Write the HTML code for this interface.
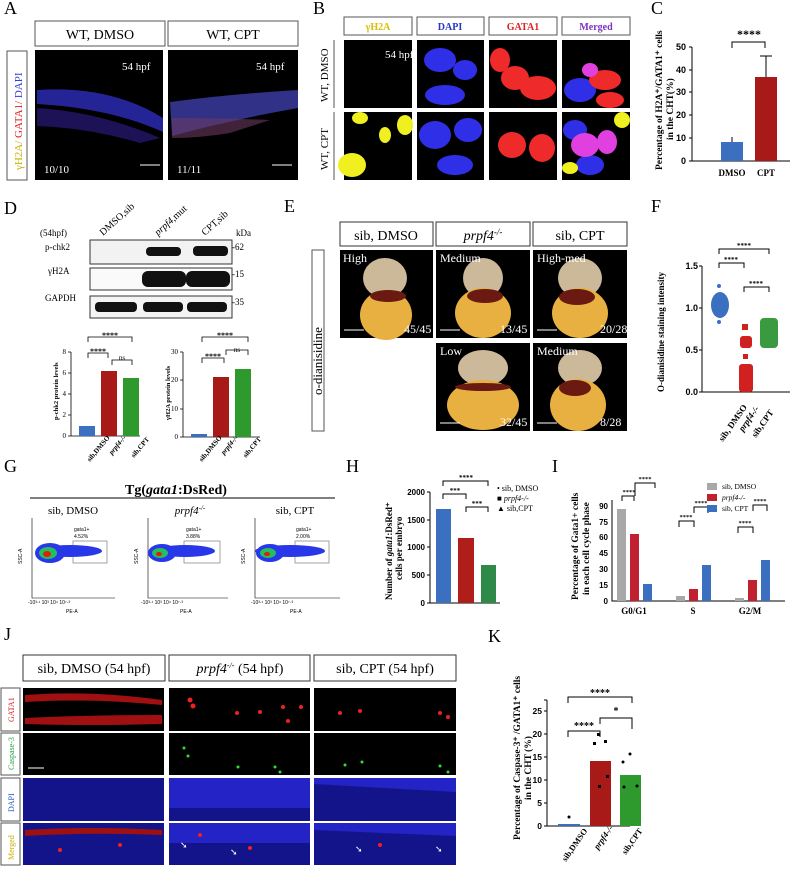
<!DOCTYPE html>
<html><head><meta charset="utf-8"><style>
body{margin:0;background:#fff}
svg{display:block;font-family:"Liberation Serif",serif}
</style></head><body>
<svg width="790" height="870" viewBox="0 0 790 870" xmlns="http://www.w3.org/2000/svg">
<g font-size="18"><text x="4" y="14">A</text><text x="313" y="14">B</text><text x="651" y="14">C</text><text x="4" y="214">D</text><text x="284" y="212">E</text><text x="651" y="212">F</text><text x="4" y="472">G</text><text x="346" y="472">H</text><text x="552" y="472">I</text><text x="4" y="640">J</text><text x="488" y="642">K</text></g>
<!-- A -->
<rect x="35" y="21" width="130" height="25" fill="none" stroke="#555"/><text x="100" y="39" text-anchor="middle" font-size="14">WT, DMSO</text>
<rect x="168" y="21" width="130" height="25" fill="none" stroke="#555"/><text x="233" y="39" text-anchor="middle" font-size="14">WT, CPT</text>
<rect x="7" y="51" width="20" height="129" fill="none" stroke="#555"/>
<text transform="translate(22,170) rotate(-90)" font-size="11"><tspan fill="#c9b200">γH2A/</tspan><tspan fill="#e02020"> GATA1/</tspan><tspan fill="#3040d0"> DAPI</tspan></text>
<rect x="35" y="50" width="128" height="130" fill="#000"/>
<rect x="168" y="50" width="130" height="130" fill="#000"/>
<path d="M37 90 Q110 85 163 118 L163 132 Q110 108 37 104Z" fill="#2a2ab0" opacity=".85"/>
<path d="M37 108 Q100 112 160 138 L140 143 Q90 128 37 126Z" fill="#2a1a7a" opacity=".7"/>
<path d="M170 102 Q230 94 298 90 L298 108 Q230 120 172 136Z" fill="#3a3aa0" opacity=".85"/>
<path d="M172 118 Q220 118 270 120 L230 133 Q200 138 172 138Z" fill="#6a3a60" opacity=".6"/>
<text x="122" y="70" fill="#fff" font-size="11">54 hpf</text><text x="256" y="70" fill="#fff" font-size="11">54 hpf</text>
<text x="44" y="173" fill="#fff" font-size="11">10/10</text><text x="177" y="173" fill="#fff" font-size="11">11/11</text>
<path d="M140 165h20M272 165h20" stroke="#fff"/>
<!-- B -->
<g font-size="10" text-anchor="middle" font-weight="bold">
<rect x="344" y="17" width="68" height="18" fill="#fff" stroke="#555"/><text x="378" y="30" fill="#d8c000">γH2A</text>
<rect x="417" y="17" width="67" height="18" fill="#fff" stroke="#555"/><text x="450" y="30" fill="#2838c0">DAPI</text>
<rect x="489" y="17" width="68" height="18" fill="#fff" stroke="#555"/><text x="523" y="30" fill="#e02020">GATA1</text>
<rect x="562" y="17" width="68" height="18" fill="#fff" stroke="#555"/><text x="596" y="30" fill="#8030c0">Merged</text>
</g>
<path d="M334 40V108M334 112V180" stroke="#555"/>
<text transform="translate(328,102) rotate(-90)" font-size="11">WT, DMSO</text>
<text transform="translate(328,170) rotate(-90)" font-size="11">WT, CPT</text>
<g fill="#000"><rect x="344" y="40" width="68" height="68"/><rect x="417" y="40" width="67" height="68"/><rect x="489" y="40" width="68" height="68"/><rect x="562" y="40" width="68" height="68"/>
<rect x="344" y="112" width="68" height="68"/><rect x="417" y="112" width="67" height="68"/><rect x="489" y="112" width="68" height="68"/><rect x="562" y="112" width="68" height="68"/></g>
<text x="385" y="58" fill="#fff" font-size="11">54 hpf</text>
<g fill="#2f2fe8"><ellipse cx="440" cy="60" rx="16" ry="12"/><ellipse cx="465" cy="70" rx="12" ry="10"/><ellipse cx="445" cy="95" rx="20" ry="10"/><ellipse cx="435" cy="135" rx="16" ry="14"/><ellipse cx="468" cy="130" rx="14" ry="12"/><ellipse cx="455" cy="165" rx="18" ry="10"/>
<ellipse cx="580" cy="90" rx="16" ry="12"/><ellipse cx="575" cy="130" rx="12" ry="10"/><ellipse cx="590" cy="165" rx="14" ry="10"/></g>
<g fill="#ee2a2a"><ellipse cx="515" cy="78" rx="14" ry="12"/><ellipse cx="538" cy="88" rx="18" ry="12"/><ellipse cx="500" cy="60" rx="10" ry="12"/><ellipse cx="512" cy="145" rx="14" ry="13"/><ellipse cx="542" cy="148" rx="13" ry="14"/>
<ellipse cx="605" cy="80" rx="16" ry="10"/><ellipse cx="610" cy="100" rx="14" ry="8"/></g>
<g fill="#e040e0"><ellipse cx="585" cy="145" rx="14" ry="12"/><ellipse cx="607" cy="142" rx="10" ry="12"/><ellipse cx="590" cy="70" rx="8" ry="7"/></g>
<g fill="#f0f020"><ellipse cx="352" cy="165" rx="14" ry="12"/><ellipse cx="385" cy="135" rx="6" ry="8"/><ellipse cx="405" cy="125" rx="8" ry="10"/><ellipse cx="360" cy="118" rx="8" ry="6"/><ellipse cx="570" cy="168" rx="8" ry="6"/><ellipse cx="622" cy="120" rx="8" ry="8"/></g>
<!-- C -->
<text transform="translate(662,170) rotate(-90)" font-size="9.5" font-weight="bold"><tspan x="0">Percentage of H2A⁺/GATA1⁺ cells</tspan><tspan x="30" dy="11">in the CHT(%)</tspan></text>
<g stroke="#000" fill="none" stroke-width="1"><path d="M692 47V161H790M689 161h3M689 138h3M689 115h3M689 92h3M689 70h3M689 47h3"/><path d="M732 48V42H765V48"/><path d="M732 142V137M766 77V56M760 56h12"/></g>
<g font-size="9" text-anchor="end" font-weight="bold" font-family="Liberation Sans"><text x="686" y="164">0</text><text x="686" y="141">10</text><text x="686" y="118">20</text><text x="686" y="95">30</text><text x="686" y="73">40</text><text x="686" y="50">50</text></g>
<rect x="721" y="142" width="22" height="19" fill="#3b6fc0"/><rect x="755" y="77" width="22" height="84" fill="#a81a18"/>
<text x="749" y="38" text-anchor="middle" font-size="12" font-weight="bold">****</text>
<text x="732" y="176" text-anchor="middle" font-size="9" font-weight="bold">DMSO</text><text x="766" y="176" text-anchor="middle" font-size="9" font-weight="bold">CPT</text>
<!-- D -->
<text x="40" y="236" font-size="9">(54hpf)</text>
<g font-size="10"><text transform="translate(103,236) rotate(-42)">DMSO,sib</text><text transform="translate(158,236) rotate(-42)"><tspan font-style="italic">prpf4</tspan>,mut</text><text transform="translate(205,236) rotate(-42)">CPT,sib</text></g>
<text x="236" y="236" font-size="9">kDa</text>
<g font-size="9"><text x="45" y="250">p-chk2</text><text x="48" y="274">γH2A</text><text x="45" y="301">GAPDH</text>
<text x="232" y="250">-62</text><text x="232" y="277">-15</text><text x="232" y="305">-35</text></g>
<rect x="90" y="240" width="142" height="24" fill="#f2f2f2" stroke="#333"/><rect x="90" y="268" width="142" height="22" fill="#fafafa" stroke="#333"/><rect x="90" y="296" width="142" height="22" fill="#f4f4f4" stroke="#333"/>
<g fill="#111"><rect x="146" y="247" width="35" height="9" rx="4"/><rect x="193" y="246" width="35" height="10" rx="4"/><rect x="142" y="271" width="44" height="16" rx="6"/><rect x="186" y="271" width="44" height="16" rx="6"/><rect x="95" y="302" width="42" height="10" rx="4"/><rect x="143" y="302" width="40" height="10" rx="4"/><rect x="187" y="302" width="40" height="10" rx="4"/></g>
<g stroke="#000" fill="none" stroke-width=".8"><path d="M71 352V436H140M68 436h3M68 415h3M68 394h3M68 373h3M68 352h3"/><path d="M88 342V337H132V342M88 358V353H108V358M112 365V360H132V365"/>
<path d="M183 352V437H260M180 437h3M180 409h3M180 380h3M180 352h3"/><path d="M202 342V337H248V342M202 363V358H224V363M226 355V350H248V355"/></g>
<g font-size="7" text-anchor="end"><text x="66" y="438">0</text><text x="66" y="417">2</text><text x="66" y="396">4</text><text x="66" y="375">6</text><text x="66" y="354">8</text><text x="178" y="439">0</text><text x="178" y="411">10</text><text x="178" y="382">20</text><text x="178" y="354">30</text></g>
<rect x="79" y="426" width="16" height="10" fill="#3b6fc0"/><rect x="101" y="371" width="16" height="65" fill="#a81a18"/><rect x="123" y="378" width="16" height="58" fill="#2e9a2e"/>
<rect x="191" y="434" width="16" height="3" fill="#3b6fc0"/><rect x="213" y="377" width="16" height="60" fill="#a81a18"/><rect x="235" y="369" width="16" height="68" fill="#2e9a2e"/>
<g font-size="8" font-weight="bold" text-anchor="middle"><text x="110" y="338">****</text><text x="98" y="354">****</text><text x="225" y="338">****</text><text x="213" y="359">****</text></g>
<g font-size="7" text-anchor="middle"><text x="122" y="360">ns</text><text x="237" y="352">ns</text></g>
<text transform="translate(58,420) rotate(-90)" font-size="6.5" font-weight="bold">p-chk2 protein levels</text>
<text transform="translate(170,420) rotate(-90)" font-size="6.5" font-weight="bold">γH2A protein levels</text>
<g font-size="7" font-weight="bold"><text transform="translate(90,462) rotate(-50)">sib,DMSO</text><text transform="translate(112,455) rotate(-50)" font-style="italic">prpf4-/-</text><text transform="translate(134,458) rotate(-50)">sib,CPT</text>
<text transform="translate(202,462) rotate(-50)">sib,DMSO</text><text transform="translate(224,455) rotate(-50)" font-style="italic">prpf4-/-</text><text transform="translate(246,458) rotate(-50)">sib,CPT</text></g>
<!-- E -->
<rect x="312" y="250" width="12" height="181" fill="none" stroke="#555"/>
<text transform="translate(322,395) rotate(-90)" font-size="13">o-dianisidine</text>
<g font-size="14" text-anchor="middle"><rect x="340" y="222" width="93" height="24" fill="none" stroke="#333"/><text x="386" y="240">sib, DMSO</text>
<rect x="436" y="222" width="94" height="24" fill="none" stroke="#333"/><text x="483" y="240" font-style="italic">prpf4<tspan font-size="9" dy="-5">-/-</tspan></text>
<rect x="533" y="222" width="94" height="24" fill="none" stroke="#333"/><text x="580" y="240">sib, CPT</text></g>
<g fill="#000"><rect x="340" y="250" width="93" height="88"/><rect x="436" y="250" width="94" height="88"/><rect x="533" y="250" width="94" height="88"/>
<rect x="436" y="343" width="94" height="88"/><rect x="533" y="343" width="94" height="88"/></g>
<g fill="#cbb99a"><ellipse cx="385" cy="278" rx="22" ry="20"/><ellipse cx="483" cy="278" rx="20" ry="20"/><ellipse cx="580" cy="278" rx="22" ry="20"/><ellipse cx="483" cy="368" rx="25" ry="18"/><ellipse cx="580" cy="368" rx="22" ry="18"/></g>
<g fill="#e8b040"><ellipse cx="386" cy="315" rx="26" ry="25"/><ellipse cx="483" cy="313" rx="28" ry="25"/><ellipse cx="580" cy="313" rx="28" ry="25"/><ellipse cx="483" cy="405" rx="36" ry="25"/><ellipse cx="578" cy="405" rx="28" ry="26"/></g>
<g fill="#6a1a10"><ellipse cx="388" cy="296" rx="18" ry="6"/><ellipse cx="485" cy="296" rx="18" ry="7"/><ellipse cx="577" cy="297" rx="18" ry="8"/><ellipse cx="483" cy="387" rx="28" ry="4"/><ellipse cx="575" cy="388" rx="16" ry="8"/></g>
<g fill="#fff" font-size="12"><text x="343" y="262">High</text><text x="440" y="262">Medium</text><text x="537" y="262">High-med</text><text x="440" y="355">Low</text><text x="537" y="355">Medium</text>
<text x="404" y="333">45/45</text><text x="500" y="333">13/45</text><text x="600" y="333">20/28</text><text x="500" y="426">32/45</text><text x="600" y="426">8/28</text></g>
<path d="M344 330h20M440 330h20M537 330h20M440 423h20M537 423h20" stroke="#fff"/>
<!-- F -->
<text transform="translate(664,392) rotate(-90)" font-size="9" font-weight="bold">O-dianisidine staining intensity</text>
<g stroke="#000" fill="none"><path d="M702 266V392H790M699 392h3M699 350h3M699 308h3M699 266h3"/><path d="M719 254V249H769V254M719 268V263H744V268M744 292V287H769V292"/></g>
<g font-size="9" text-anchor="end" font-weight="bold" font-family="Liberation Sans"><text x="698" y="395">0.0</text><text x="698" y="353">0.5</text><text x="698" y="311">1.0</text><text x="698" y="269">1.5</text></g>
<g font-size="7" font-weight="bold" text-anchor="middle"><text x="744" y="248">****</text><text x="731" y="262">****</text><text x="756" y="286">****</text></g>
<g fill="#3b6fc0"><ellipse cx="720" cy="305" rx="9" ry="13"/><circle cx="719" cy="286" r="2"/><circle cx="719" cy="322" r="2"/></g>
<g fill="#d02020"><rect x="739" y="364" width="14" height="28" rx="3"/><rect x="740" y="336" width="12" height="12" rx="3"/><rect x="742" y="324" width="6" height="6"/><rect x="743" y="354" width="5" height="5"/></g>
<g fill="#3a9a40"><rect x="760" y="318" width="18" height="30" rx="4"/></g>
<g font-size="9" font-weight="bold"><text transform="translate(723,442) rotate(-55)">sib, DMSO</text><text transform="translate(743,432) rotate(-55)" font-style="italic">prpf4-/-</text><text transform="translate(756,438) rotate(-55)">sib,CPT</text></g>
<!-- G -->
<text x="176" y="494" text-anchor="middle" font-size="14" font-weight="bold">Tg(<tspan font-style="italic">gata1</tspan>:DsRed)</text>
<path d="M30 498H335" stroke="#000"/>
<g font-size="11" text-anchor="middle"><text x="73" y="514">sib, DMSO</text><text x="190" y="514" font-style="italic">prpf4<tspan font-size="7" dy="-4">-/-</tspan></text><text x="295" y="514">sib, CPT</text></g>
<g fill="none" stroke="#000" stroke-width=".6"><path d="M32 518V598H115M148 518V598H228M255 518V598H340"/>
<rect x="73" y="541" width="34" height="22" stroke="#666"/><rect x="184" y="541" width="36" height="22" stroke="#666"/><rect x="295" y="541" width="34" height="22" stroke="#666"/></g>
<g><ellipse cx="70" cy="551" rx="32" ry="6" fill="#2838e8"/><ellipse cx="50" cy="553" rx="15" ry="10" fill="#2838e8"/><ellipse cx="48" cy="553" rx="9" ry="6" fill="#20c060"/><ellipse cx="47" cy="554" rx="4" ry="3" fill="#e02000"/>
<ellipse cx="185" cy="551" rx="30" ry="6" fill="#2838e8"/><ellipse cx="162" cy="553" rx="14" ry="9" fill="#2838e8"/><ellipse cx="160" cy="553" rx="8" ry="5" fill="#20c060"/><ellipse cx="159" cy="554" rx="3" ry="2" fill="#e02000"/>
<ellipse cx="290" cy="551" rx="35" ry="6" fill="#2838e8"/><ellipse cx="270" cy="553" rx="14" ry="9" fill="#2838e8"/><ellipse cx="268" cy="553" rx="8" ry="5" fill="#20c060"/><ellipse cx="267" cy="554" rx="3" ry="2" fill="#e02000"/></g>
<g font-size="5" font-family="Liberation Sans"><text x="74" y="531">gata1+</text><text x="74" y="538">4.52%</text><text x="186" y="531">gata1+</text><text x="186" y="538">3.88%</text><text x="296" y="531">gata1+</text><text x="296" y="538">2.00%</text>
<text transform="translate(22,564) rotate(-90)">SSC-A</text><text transform="translate(138,564) rotate(-90)">SSC-A</text><text transform="translate(245,564) rotate(-90)">SSC-A</text>
<text x="66" y="613">PE-A</text><text x="180" y="613">PE-A</text><text x="290" y="613">PE-A</text>
<text x="28" y="604">-10³·¹   10³  10⁴          10⁷·³</text><text x="141" y="604">-10³·¹   10³  10⁴          10⁷·³</text><text x="251" y="604">-10³·¹   10³  10⁴          10⁷·³</text></g>
<!-- H -->
<text transform="translate(392,600) rotate(-90)" font-size="9" font-weight="bold"><tspan x="0">Number of <tspan font-style="italic">gata1</tspan>:DsRed⁺</tspan><tspan x="20" dy="10">cells per embryo</tspan></text>
<g stroke="#000" fill="none"><path d="M430 492V603H500M427 603h3M427 575h3M427 547h3M427 520h3M427 492h3"/><path d="M443 486V481H488V486M443 499V494H466V499M466 512V507H488V512"/></g>
<g font-size="8" text-anchor="end" font-weight="bold" font-family="Liberation Sans"><text x="425" y="606">0</text><text x="425" y="578">500</text><text x="425" y="550">1000</text><text x="425" y="523">1500</text><text x="425" y="495">2000</text></g>
<rect x="436" y="509" width="15" height="94" fill="#3b6fc0"/><rect x="458" y="538" width="16" height="65" fill="#b01e1a"/><rect x="481" y="565" width="15" height="38" fill="#2e8a48"/>
<g font-size="7" font-weight="bold" text-anchor="middle"><text x="466" y="480">****</text><text x="455" y="493">***</text><text x="477" y="506">***</text></g>
<g font-size="8"><text x="497" y="491">•  sib,  DMSO</text><text x="497" y="501">■  <tspan font-style="italic">prpf4-/-</tspan></text><text x="497" y="511">▲  sib,CPT</text></g>
<!-- I -->
<text transform="translate(578,600) rotate(-90)" font-size="9.5" font-weight="bold"><tspan x="0">Percentage of Gata1+ cells</tspan><tspan x="5" dy="11">in each cell cycle phase</tspan></text>
<g stroke="#000" fill="none"><path d="M612 500V601H785"/><path d="M622 501V496H634V501M635 496V483H655V488M679 527V521H694V527M694 513V507H708V513M738 533V527H753V533M753 511V505H767V511"/></g>
<g font-size="8" text-anchor="end" font-weight="bold" font-family="Liberation Sans"><text x="608" y="604">0</text><text x="608" y="588">15</text><text x="608" y="572">30</text><text x="608" y="556">45</text><text x="608" y="540">60</text><text x="608" y="525">75</text><text x="608" y="509">90</text></g>
<rect x="617" y="509" width="9" height="92" fill="#a8a8a8"/><rect x="630" y="534" width="9" height="67" fill="#c02030"/><rect x="643" y="584" width="9" height="17" fill="#3b6fc0"/>
<rect x="676" y="596" width="9" height="5" fill="#a8a8a8"/><rect x="689" y="589" width="9" height="12" fill="#c02030"/><rect x="702" y="565" width="9" height="36" fill="#3b6fc0"/>
<rect x="735" y="598" width="9" height="3" fill="#a8a8a8"/><rect x="748" y="580" width="9" height="21" fill="#c02030"/><rect x="761" y="560" width="9" height="41" fill="#3b6fc0"/>
<g font-size="9" font-weight="bold" text-anchor="middle"><text x="634" y="614">G0/G1</text><text x="693" y="614">S</text><text x="750" y="614">G2/M</text></g>
<g font-size="6.5" font-weight="bold" text-anchor="middle"><text x="629" y="494">****</text><text x="645" y="481">****</text><text x="686" y="519">****</text><text x="701" y="505">****</text><text x="745" y="525">****</text><text x="760" y="503">****</text></g>
<g font-size="7.5"><rect x="707" y="483" width="10" height="7" fill="#a8a8a8"/><text x="722" y="489">sib, DMSO</text><rect x="707" y="494" width="10" height="7" fill="#c02030"/><text x="722" y="500" font-style="italic">prpf4-/-</text><rect x="707" y="505" width="10" height="7" fill="#3b6fc0"/><text x="722" y="511">sib, CPT</text></g>
<!-- J -->
<g font-size="14" text-anchor="middle"><rect x="23" y="655" width="142" height="26" fill="none" stroke="#333"/><text x="94" y="673">sib, DMSO (54 hpf)</text>
<rect x="169" y="655" width="141" height="26" fill="none" stroke="#333"/><text x="240" y="673"><tspan font-style="italic">prpf4</tspan><tspan font-size="8" dy="-5" font-style="italic">-/-</tspan><tspan dy="5"> (54 hpf)</tspan></text>
<rect x="314" y="655" width="142" height="26" fill="none" stroke="#333"/><text x="385" y="673">sib, CPT (54 hpf)</text></g>
<g fill="none" stroke="#555"><rect x="1" y="688" width="19" height="43"/><rect x="1" y="733" width="19" height="42"/><rect x="1" y="778" width="19" height="43"/><rect x="1" y="823" width="19" height="42"/></g>
<g font-size="8"><text transform="translate(14,722) rotate(-90)" fill="#d02020">GATA1</text><text transform="translate(14,770) rotate(-90)" fill="#20a040">Caspase-3</text><text transform="translate(14,812) rotate(-90)" fill="#2050c0">DAPI</text><text transform="translate(14,860) rotate(-90)" fill="#c8b000">Merged</text></g>
<g fill="#000"><rect x="23" y="688" width="141" height="43"/><rect x="169" y="688" width="141" height="43"/><rect x="314" y="688" width="142" height="43"/>
<rect x="23" y="733" width="141" height="42"/><rect x="169" y="733" width="141" height="42"/><rect x="314" y="733" width="142" height="42"/></g>
<g fill="#14148a"><rect x="23" y="778" width="141" height="43"/><rect x="169" y="778" width="141" height="43"/><rect x="314" y="778" width="142" height="43"/>
<rect x="23" y="823" width="141" height="42"/><rect x="169" y="823" width="141" height="42"/><rect x="314" y="823" width="142" height="42"/></g>
<g fill="#2a2ae0" opacity=".7"><rect x="169" y="778" width="141" height="30"/><rect x="169" y="823" width="141" height="20"/><path d="M314 778H456V792L314 784Z"/><path d="M314 823H456V836L314 830Z"/></g>
<g fill="#a01010"><path d="M25 695 Q90 690 162 700 L162 705 Q90 698 25 702Z"/><path d="M25 718 Q90 715 162 715 L162 724 Q90 726 25 724Z"/><path d="M25 830 Q90 826 162 830 L162 835 Q90 832 25 836Z"/></g>
<g fill="#ee2020"><circle cx="190" cy="700" r="2.5"/><circle cx="193" cy="706" r="2.5"/><circle cx="237" cy="713" r="2"/><circle cx="260" cy="712" r="2"/><circle cx="283" cy="707" r="2"/><circle cx="301" cy="707" r="2"/><circle cx="288" cy="721" r="2"/><circle cx="340" cy="713" r="2"/><circle cx="360" cy="711" r="2"/><circle cx="440" cy="713" r="2"/><circle cx="448" cy="717" r="2"/>
<circle cx="200" cy="835" r="2"/><circle cx="250" cy="848" r="2"/><circle cx="380" cy="845" r="2"/><circle cx="60" cy="850" r="2"/><circle cx="120" cy="845" r="2"/></g>
<g fill="#30e030"><circle cx="184" cy="748" r="1.5"/><circle cx="188" cy="756" r="1.5"/><circle cx="238" cy="767" r="1.5"/><circle cx="275" cy="767" r="1.5"/><circle cx="280" cy="772" r="1.5"/><circle cx="345" cy="765" r="1.5"/><circle cx="362" cy="762" r="1.5"/><circle cx="440" cy="766" r="1.5"/><circle cx="448" cy="772" r="1.5"/></g>
<path d="M28 768h16" stroke="#aaa" stroke-width="1.5"/>
<g fill="#fff" font-size="9"><text x="180" y="848">➘</text><text x="230" y="855">➘</text><text x="355" y="852">➘</text><text x="435" y="852">➘</text></g>
<!-- K -->
<text transform="translate(520,840) rotate(-90)" font-size="9.5" font-weight="bold"><tspan x="0">Percentage of Caspase-3⁺ /GATA1⁺ cells</tspan><tspan x="40" dy="11">in the CHT (%)</tspan></text>
<g stroke="#000" fill="none"><path d="M547 700V826H630M544 826h3M544 803h3M544 780h3M544 757h3M544 734h3M544 711h3M544 700h3"/><path d="M568 703V697H632V703M568 737V731H600V737M600 724V718H632V729"/></g>
<g font-size="8.5" text-anchor="end" font-weight="bold" font-family="Liberation Sans"><text x="542" y="829">0</text><text x="542" y="806">5</text><text x="542" y="783">10</text><text x="542" y="760">15</text><text x="542" y="737">20</text><text x="542" y="714">25</text></g>
<rect x="558" y="824" width="22" height="2" fill="#3b6fc0"/><rect x="590" y="761" width="21" height="65" fill="#a81a18"/><rect x="620" y="775" width="21" height="51" fill="#2e9a2e"/>
<g fill="#000"><rect x="597" y="733" width="3" height="3"/><rect x="593" y="742" width="3" height="3"/><rect x="604" y="740" width="3" height="3"/><rect x="598" y="785" width="3" height="3"/><rect x="606" y="775" width="3" height="3"/>
<circle cx="630" cy="754" r="1.5"/><circle cx="623" cy="762" r="1.5"/><circle cx="637" cy="786" r="1.5"/><circle cx="624" cy="787" r="1.5"/><circle cx="569" cy="817" r="1.5"/></g>
<g font-size="10" font-weight="bold" text-anchor="middle"><text x="600" y="696">****</text><text x="584" y="729">****</text><text x="616" y="714">*</text></g>
<g font-size="8.5" font-weight="bold"><text transform="translate(566,862) rotate(-55)">sib,DMSO</text><text transform="translate(598,850) rotate(-55)" font-style="italic">prpf4-/-</text><text transform="translate(626,855) rotate(-55)">sib,CPT</text></g>
</svg>
</body></html>
